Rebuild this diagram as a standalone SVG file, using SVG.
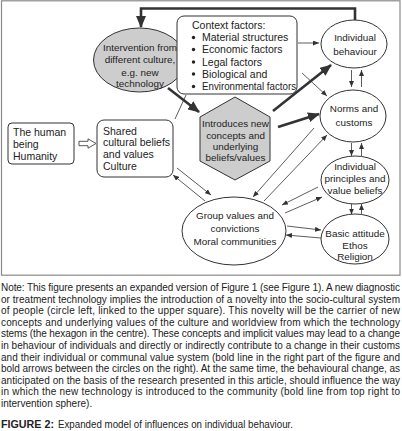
<svg xmlns="http://www.w3.org/2000/svg" width="402" height="431" viewBox="0 0 402 431">
<defs>
<style>
text{font-family:"Liberation Sans",Arial,sans-serif;fill:#222}
.lb{font-size:9.9px}
.bx{font-size:10.5px}
.c{text-anchor:middle}
.shape{fill:#fff;stroke:#333;stroke-width:1}
.grey{fill:#cdcdcd;stroke:#333;stroke-width:1}
.thin{fill:none;stroke:#333;stroke-width:0.8;marker-end:url(#sa)}
.plain{fill:none;stroke:#333;stroke-width:0.8}
.bold{fill:none;stroke:#333;stroke-width:2.6;marker-end:url(#ba)}
.cap{font-size:10px}
</style>
<marker id="sa" markerUnits="userSpaceOnUse" markerWidth="6" markerHeight="5" refX="6" refY="2.5" orient="auto"><path d="M0,0 L6,2.5 L0,5 z" fill="#333"/></marker>
<marker id="ba" markerUnits="userSpaceOnUse" markerWidth="12" markerHeight="10" refX="11" refY="5" orient="auto"><path d="M0,0 L12,5 L0,10 z" fill="#333"/></marker>
</defs>
<rect x="1.5" y="0.8" width="398.5" height="274.4" fill="#fff" stroke="#8a8a8a" stroke-width="1.2"/>

<g id="connectors">
<polyline class="bold" points="355,20 355,8.5 141,8.5 141,27"/>
<line class="bold" x1="168" y1="88" x2="199" y2="112"/>
<line class="bold" x1="273" y1="111" x2="331" y2="65"/>
<line class="bold" x1="278" y1="127" x2="319" y2="114"/>
<line class="plain" x1="175" y1="119" x2="186" y2="95"/>
<line class="thin" x1="298" y1="43" x2="319" y2="43"/>
<line class="thin" x1="302" y1="73" x2="327" y2="96"/>
<line class="thin" x1="351.5" y1="70" x2="351.5" y2="87"/>
<line class="thin" x1="361.5" y1="87" x2="361.5" y2="70"/>
<line class="thin" x1="351.5" y1="143" x2="351.5" y2="156"/>
<line class="thin" x1="361.5" y1="156" x2="361.5" y2="143"/>
<line class="thin" x1="351.5" y1="204" x2="351.5" y2="214.5"/>
<line class="thin" x1="361.5" y1="214.5" x2="361.5" y2="204"/>
<line class="thin" x1="287" y1="226" x2="321" y2="230"/>
<line class="thin" x1="321" y1="238" x2="286" y2="235"/>
<line class="thin" x1="318" y1="187" x2="282" y2="205"/>
<line class="thin" x1="285" y1="213" x2="322" y2="197"/>
<line class="thin" x1="314" y1="128" x2="253" y2="197"/>
<line class="thin" x1="264" y1="201" x2="327" y2="135"/>
<line class="thin" x1="177" y1="168" x2="211" y2="195"/>
<line class="thin" x1="205" y1="201" x2="173" y2="175"/>
<polygon points="79,141.3 88,141.3 88,138.8 96,143.5 88,148.2 88,145.7 79,145.7" fill="#fff" stroke="#444" stroke-width="0.9"/>
</g>

<g id="intervention">
<ellipse class="grey" cx="139.5" cy="60" rx="46" ry="32"/>
<text class="lb c"><tspan x="140" y="51">Intervention from</tspan><tspan x="140" y="63">different culture,</tspan><tspan x="140" y="75.5">e.g. new</tspan><tspan x="140" y="87">technology</tspan></text>
</g>

<g id="context">
<rect class="shape" x="177" y="16" width="120" height="78" rx="7"/>
<text class="bx" x="192" y="28.5">Context factors:</text>
<g fill="#222"><circle cx="193.5" cy="37.5" r="1.7"/><circle cx="193.5" cy="49.5" r="1.7"/><circle cx="193.5" cy="62" r="1.7"/><circle cx="193.5" cy="74" r="1.7"/><circle cx="193.5" cy="86.5" r="1.7"/></g>
<text class="bx"><tspan x="202" y="41">Material structures</tspan><tspan x="202" y="53">Economic factors</tspan><tspan x="202" y="65.5">Legal factors</tspan><tspan x="202" y="77.5">Biological and</tspan></text>
<text class="bx" x="202" y="90" textLength="94" lengthAdjust="spacingAndGlyphs">Environmental factors</text>
</g>

<g id="human">
<rect class="shape" x="8" y="123" width="66" height="41" rx="4"/>
<text class="bx"><tspan x="13" y="136">The human</tspan><tspan x="13" y="148">being</tspan><tspan x="13" y="160">Humanity</tspan></text>
</g>

<g id="shared">
<rect class="shape" x="97" y="120" width="76" height="57" rx="7"/>
<text class="bx"><tspan x="103" y="134.5">Shared</tspan><tspan x="103" y="146">cultural beliefs</tspan><tspan x="103" y="157.5">and values</tspan><tspan x="103" y="169.5">Culture</tspan></text>
</g>

<g id="hexagon">
<polygon class="grey" points="235,97 200,117 200,161 235,180 270,161 270,117"/>
<text class="lb c"><tspan x="235.5" y="127">Introduces new</tspan><tspan x="235.5" y="138.5">concepts and</tspan><tspan x="235.5" y="149.5">underlying</tspan><tspan x="235.5" y="161">beliefs/values</tspan></text>
</g>

<g id="individual-behaviour">
<ellipse class="shape" cx="354" cy="44" rx="33" ry="24"/>
<text class="lb c"><tspan x="355" y="41">Individual</tspan><tspan x="355" y="55">behaviour</tspan></text>
</g>

<g id="norms">
<ellipse class="shape" cx="353" cy="116" rx="33" ry="26"/>
<text class="lb c"><tspan x="354" y="112">Norms and</tspan><tspan x="354" y="126">customs</tspan></text>
</g>

<g id="principles">
<ellipse class="shape" cx="355" cy="180" rx="34" ry="24"/>
<text class="lb c"><tspan x="355" y="169.5">Individual</tspan><tspan x="355" y="181.5">principles and</tspan><tspan x="355" y="193.5">value beliefs</tspan></text>
</g>

<g id="basic">
<ellipse class="shape" cx="355" cy="239" rx="34" ry="25"/>
<text class="lb c"><tspan x="355" y="236.5">Basic attitude</tspan><tspan x="355" y="248.5">Ethos</tspan><tspan x="355" y="260">Religion</tspan></text>
</g>

<g id="group">
<ellipse class="shape" cx="234" cy="231" rx="52" ry="34"/>
<text class="lb c"><tspan x="235" y="219">Group values and</tspan><tspan x="235" y="232">convictions</tspan><tspan x="235" y="245">Moral communities</tspan></text>
</g>

<g id="caption">
<text class="cap" x="1" y="291" textLength="399">Note: This figure presents an expanded version of Figure 1 (see Figure 1). A new diagnostic</text>
<text class="cap" x="1" y="302.6" textLength="399">or treatment technology implies the introduction of a novelty into the socio-cultural system</text>
<text class="cap" x="1" y="314.2" textLength="399">of people (circle left, linked to the upper square). This novelty will be the carrier of new</text>
<text class="cap" x="1" y="325.8" textLength="399">concepts and underlying values of the culture and worldview from which the technology</text>
<text class="cap" x="1" y="337.4" textLength="399">stems (the hexagon in the centre). These concepts and implicit values may lead to a change</text>
<text class="cap" x="1" y="349" textLength="399">in behaviour of individuals and directly or indirectly contribute to a change in their customs</text>
<text class="cap" x="1" y="360.6" textLength="399">and their individual or communal value system (bold line in the right part of the figure and</text>
<text class="cap" x="1" y="372.2" textLength="399">bold arrows between the circles on the right). At the same time, the behavioural change, as</text>
<text class="cap" x="1" y="383.8" textLength="399">anticipated on the basis of the research presented in this article, should influence the way</text>
<text class="cap" x="1" y="395.4" textLength="399">in which the new technology is introduced to the community (bold line from top right to</text>
<text class="cap" x="1" y="407">intervention sphere).</text>
<text x="1" y="427.5" font-size="11.8" font-weight="bold" textLength="53" lengthAdjust="spacingAndGlyphs">FIGURE 2:</text>
<text x="58" y="427.5" font-size="11.8" textLength="235" lengthAdjust="spacingAndGlyphs">Expanded model of influences on individual behaviour.</text>
</g>
</svg>
